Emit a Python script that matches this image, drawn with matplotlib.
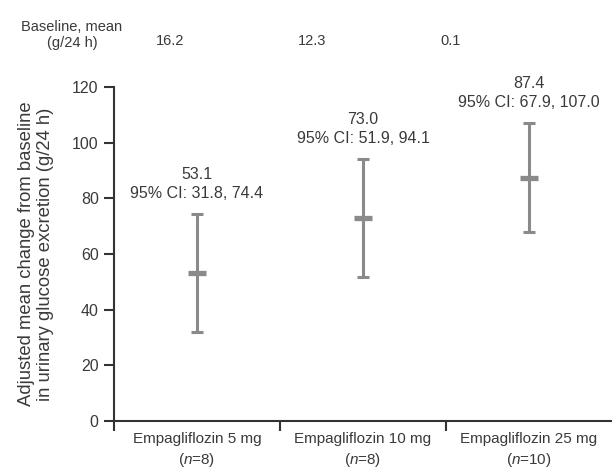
import matplotlib
matplotlib.use("Agg")
from matplotlib import pyplot as plt
import numpy as np

plt.rcParams['font.family'] = ['Liberation Sans', 'DejaVu Sans']
plt.rcParams['mathtext.fontset'] = 'custom'
plt.rcParams['mathtext.rm'] = 'Liberation Sans'
plt.rcParams['mathtext.it'] = 'Liberation Sans:italic'

#data
groups = ["Empagliflozin 5 mg", "Empagliflozin 10 mg", "Empagliflozin 25 mg"]
nPatients = [8, 8, 10]
means = [53.1, 73.0, 87.4]
ciLow = [31.8, 51.9, 67.9]
ciHigh = [74.4, 94.1, 107.0]
baselineMeans = ["16.2", "12.3", "0.1"]

textColor = "#3a3a3a"
barColor = "#8a8a8a"

fig = plt.figure(figsize=(6.12, 4.73), dpi=100)
ax = fig.add_axes([114/612, 1 - 421/473, 1 - 114/612, (421 - 87)/473])

x = np.arange(len(groups))
m = np.array(means)
lo = np.array(ciLow)
hi = np.array(ciHigh)

ax.errorbar(x, m, yerr=[m - lo, hi - m], fmt='none', ecolor=barColor,
            elinewidth=2.2, capsize=4, capthick=2.2, zorder=3)
ax.plot(x, m, linestyle='none', marker='_', markersize=13, mew=3.8,
        color=barColor, zorder=4)

for i in range(len(groups)):
    ax.annotate(f"{means[i]:.1f}\n95% CI: {ciLow[i]:.1f}, {ciHigh[i]:.1f}",
                xy=(x[i], ciHigh[i]), xytext=(0, 9.5), textcoords='offset points',
                ha='center', va='bottom', fontsize=11.5, color=textColor,
                linespacing=1.3)

ax.set_xlim(-0.5, 2.5)
ax.set_ylim(0, 120)
ax.set_yticks(range(0, 121, 20))

#separator ticks between groups, labels in the middle
ax.set_xticks([-0.5, 0.5, 1.5])
ax.set_xticklabels([])
ax.set_xticks(x, minor=True)
ax.set_xticklabels([g + "\n($\\it{n}$=" + str(n) + ")" for g, n in zip(groups, nPatients)],
                   minor=True, fontsize=11, color=textColor, linespacing=1.35)
ax.tick_params(axis='x', which='major', direction='out', length=7.5, width=1.5, color="#333333")
ax.tick_params(axis='x', which='minor', length=0, pad=8)
ax.tick_params(axis='y', direction='out', length=7, width=1.5, color="#333333",
               labelsize=11.5, labelcolor=textColor, pad=4)

for s in ['top', 'right']:
    ax.spines[s].set_visible(False)
for s in ['left', 'bottom']:
    ax.spines[s].set_linewidth(1.5)
    ax.spines[s].set_color("#333333")

ax.set_ylabel("Adjusted mean change from baseline\nin urinary glucose excretion (g/24 h)",
              fontsize=13.3, color=textColor, linespacing=1.15, labelpad=13)

#baseline header row
fig.text(72/612, 1 - 35/473, "Baseline, mean\n(g/24 h)", ha='center', va='center',
         fontsize=10.5, color=textColor, linespacing=1.1)
for xp, val in zip([170, 312, 451], baselineMeans):
    fig.text(xp/612, 1 - 41/473, val, ha='center', va='center',
             fontsize=10.5, color=textColor)

fig.savefig("out.png", dpi=100)
